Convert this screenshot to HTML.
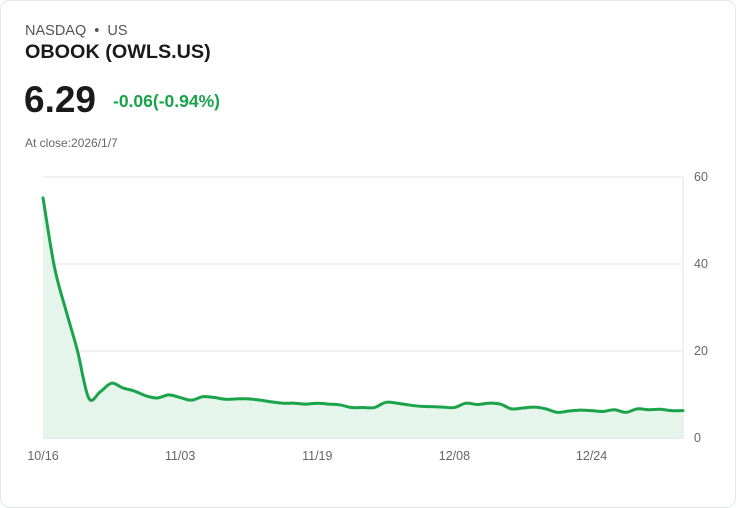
<!DOCTYPE html>
<html><head><meta charset="utf-8">
<style>
html,body{margin:0;padding:0;background:#fff;}
body{width:736px;height:508px;position:relative;font-family:"Liberation Sans",sans-serif;overflow:hidden;}
.card{position:absolute;left:0;top:0;width:734px;height:506px;border:1px solid #e3e6ea;border-radius:10px;}
.t{position:absolute;white-space:nowrap;}
</style></head>
<body>
<div class="card"></div>
<div class="t" style="left:25px;top:23px;font-size:14.5px;color:#555;">NASDAQ <span style="margin:0 4px;">•</span> US</div>
<div class="t" style="left:25px;top:41px;font-size:19.8px;font-weight:bold;color:#1a1a1a;">OBOOK (OWLS.US)</div>
<div class="t" style="left:24px;top:79px;font-size:37px;font-weight:bold;color:#1a1a1a;">6.29</div>
<div class="t" style="left:113px;top:91px;font-size:17.5px;font-weight:bold;color:#1aa34a;">-0.06(-0.94%)</div>
<div class="t" style="left:25px;top:136px;font-size:12px;color:#666;">At close:2026/1/7</div>
<svg id="chart" width="736" height="508" style="position:absolute;left:0;top:0;"></svg>
<script>
const xLabels=["10/16","11/03","11/19","12/08","12/24"];
const xLabelIdx=[0,12,24,36,48];
const yTicks=[0,20,40,60];
const prices=[55.2,39.3,29.4,20.2,9.2,10.6,12.6,11.5,10.8,9.7,9.2,9.9,9.3,8.7,9.5,9.3,8.9,9.0,9.0,8.7,8.3,8.0,8.0,7.8,8.0,7.8,7.6,7.0,7.0,7.0,8.2,8.0,7.6,7.3,7.2,7.1,7.0,8.0,7.7,8.0,7.8,6.7,6.9,7.1,6.7,5.9,6.2,6.4,6.3,6.1,6.5,5.9,6.7,6.5,6.6,6.3,6.29];
const svg=document.getElementById('chart');
const NS='http://www.w3.org/2000/svg';
const X0=43,X1=683,Y0=438,Y1=177;
const xs=i=>X0+(X1-X0)*i/(prices.length-1);
const ys=v=>Y0-(Y0-Y1)*v/60;
function mk(t,a){const e=document.createElementNS(NS,t);for(const k in a)e.setAttribute(k,a[k]);svg.appendChild(e);return e;}
yTicks.forEach(v=>{
  const l=mk('line',{x1:X0,x2:X1,y1:ys(v),y2:ys(v),stroke:v===0?'#cfcfcf':'#e6e6e6','stroke-width':1});
  
  
  const t=mk('text',{x:694,y:ys(v)+4,'font-size':12.5,fill:'#666','font-family':'Liberation Sans, sans-serif'});
  t.textContent=v;
  
  
});
const ax=mk('line',{x1:X1,x2:X1,y1:Y1,y2:Y0,stroke:'#e0e0e0','stroke-width':1});


xLabels.forEach((s,k)=>{
  const t=mk('text',{x:xs(xLabelIdx[k]),y:460,'font-size':12.5,fill:'#666','text-anchor':'middle','font-family':'Liberation Sans, sans-serif'});
  t.textContent=s;
  
  
});
const P=prices.map((v,i)=>[xs(i),ys(v)]);
let d='M'+P[0][0]+','+P[0][1];
for(let i=0;i<P.length-1;i++){
  const p0=P[Math.max(0,i-1)],p1=P[i],p2=P[i+1],p3=P[Math.min(P.length-1,i+2)];
  const c1=[p1[0]+(p2[0]-p0[0])/6,p1[1]+(p2[1]-p0[1])/6];
  const c2=[p2[0]-(p3[0]-p1[0])/6,p2[1]-(p3[1]-p1[1])/6];
  d+=' C'+c1+' '+c2+' '+p2;
}
const area=mk('path',{d:d+' L'+X1+','+Y0+' L'+X0+','+Y0+' Z',fill:'#e5f5eb'});


const line=mk('path',{d:d,fill:'none',stroke:'#1aa34a','stroke-width':3,'stroke-linejoin':'round','stroke-linecap':'round'});


</script>
</body></html>
